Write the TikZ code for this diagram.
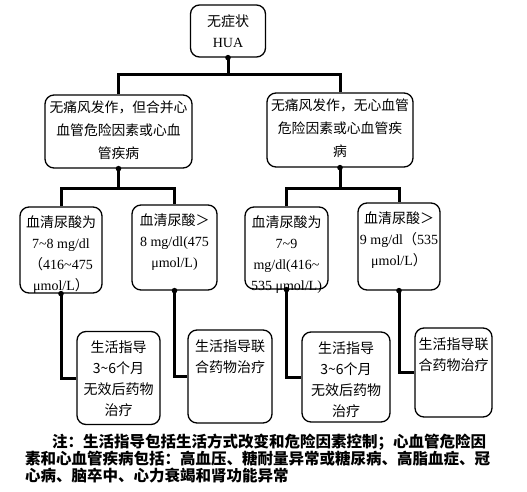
\documentclass[tikz,border=0pt]{standalone}
\usepackage{fontspec}
\setmainfont{Liberation Serif}
\newfontfamily\cjk{Noto Sans CJK SC}
\newcommand\zh[1]{{\cjk #1}}
\newcommand\tl{\textasciitilde}
\begin{document}
\begin{tikzpicture}[x=1pt,y=-1pt,
  box/.style={draw, line width=1.3pt, rounded corners=9pt, inner sep=0pt},
  txt/.style={inner sep=0pt, align=center, font=\fontsize{14}{21}\selectfont},
  conn/.style={line width=3pt},
  notetxt/.style={inner sep=0pt, anchor=west, font=\cjk\bfseries\fontsize{15.5}{17}\selectfont}]
\fill[white] (0,0) rectangle (527,492);
\useasboundingbox (0,0) rectangle (527,492);
% top
\node[box, minimum width=75pt, minimum height=52pt] (top) at (228,31) {};
\node[txt, anchor=north] (ttop) at ([yshift=-10pt]top.north) {\zh{无症状}\\HUA};
% level 2
\node[box, minimum width=147pt, minimum height=73pt] (la) at (118.5,131.5) {};
\node[box, minimum width=146pt, minimum height=74pt] (lb) at (340,130) {};
\node[txt, anchor=north, font=\fontsize{13.8}{23}\selectfont] (tla) at ([yshift=-6pt]la.north) {\zh{无痛风发作，但合并心}\\\zh{血管危险因素或心血}\\\zh{管疾病}};
\node[txt, anchor=north, font=\fontsize{13.8}{23}\selectfont] (tlb) at ([yshift=-6pt]lb.north) {\zh{无痛风发作，无心血管}\\\zh{危险因素或心血管疾}\\\zh{病}};
% level 3
\node[box, minimum width=82pt, minimum height=86pt] (b1) at (61,250) {};
\node[box, minimum width=85pt, minimum height=85pt] (b2) at (174.5,247.5) {};
\node[box, minimum width=83pt, minimum height=82pt] (b3) at (286.5,248) {};
\node[box, minimum width=82pt, minimum height=87pt] (b4) at (399,246.5) {};
\node[txt, anchor=north] (tb1) at ([yshift=-9pt]b1.north) {\zh{血清尿酸为}\\7\tl8 mg/dl\\\zh{（}416\tl475\\μmol/L\zh{）}};
\node[txt, anchor=north] (tb2) at ([yshift=-9pt]b2.north) {\zh{血清尿酸＞}\\8 mg/dl(475\\μmol/L)};
\node[txt, anchor=north] (tb3) at ([yshift=-9pt]b3.north) {\zh{血清尿酸为}\\7\tl9\\mg/dl(416\tl\\535 μmol/L)};
\node[txt, anchor=north] (tb4) at ([yshift=-9pt]b4.north) {\zh{血清尿酸＞}\\9 mg/dl\zh{（}535\\μmol/L\zh{）}};
% level 4
\node[box, minimum width=83pt, minimum height=93pt] (c1) at (118.5,378) {};
\node[box, minimum width=84pt, minimum height=93pt] (c2) at (230,376.5) {};
\node[box, minimum width=88pt, minimum height=90pt] (c3) at (346,377) {};
\node[box, minimum width=77pt, minimum height=89pt] (c4) at (453.5,372.5) {};
\node[txt, anchor=north, font=\cjk\fontsize{14}{21}\selectfont] (tc1) at ([yshift=-10pt]c1.north) {生活指导\\3\tl6个月\\无效后药物\\治疗};
\node[txt, anchor=north, font=\cjk\fontsize{14}{21}\selectfont] (tc2) at ([yshift=-10pt]c2.north) {生活指导联\\合药物治疗};
\node[txt, anchor=north, font=\cjk\fontsize{14}{21}\selectfont] (tc3) at ([yshift=-10pt]c3.north) {生活指导\\3\tl6个月\\无效后药物\\治疗};
\node[txt, anchor=north, font=\cjk\fontsize{14}{21}\selectfont] (tc4) at ([yshift=-10pt]c4.north) {生活指导联\\合药物治疗};
% connectors
\coordinate (h1) at (0,75);
\coordinate (h2) at (0,188);
\draw[conn] (top.south) -- (top.south |- h1);
\draw[conn] (la.north) |- (top.south |- h1) -| (lb.north);
\draw[conn] (la.south) -- (la.south |- h2);
\draw[conn] (b1.north) |- (la.south |- h2) -| (b2.north);
\draw[conn] (lb.south) -- (lb.south |- h2);
\draw[conn] (b3.north) |- (lb.south |- h2) -| (b4.north);
\draw[conn] (b1.south) |- (c1.west);
\draw[conn] (b2.south) |- (c2.west);
\draw[conn] (b3.south) |- (c3.west);
\draw[conn] (b4.south) |- (c4.west);
\foreach \n in {top,la,lb,b1,b2,b3,b4} \fill (\n.south) circle (2.8pt);
% note
\node[notetxt] (n1) at (52,442) {注：生活指导包括生活方式改变和危险因素控制；心血管危险因};
\node[notetxt] (n2) at (25,459) {素和心血管疾病包括：高血压、糖耐量异常或糖尿病、高脂血症、冠};
\node[notetxt] (n3) at (25,476) {心病、脑卒中、心力衰竭和肾功能异常};
\end{tikzpicture}
\end{document}
